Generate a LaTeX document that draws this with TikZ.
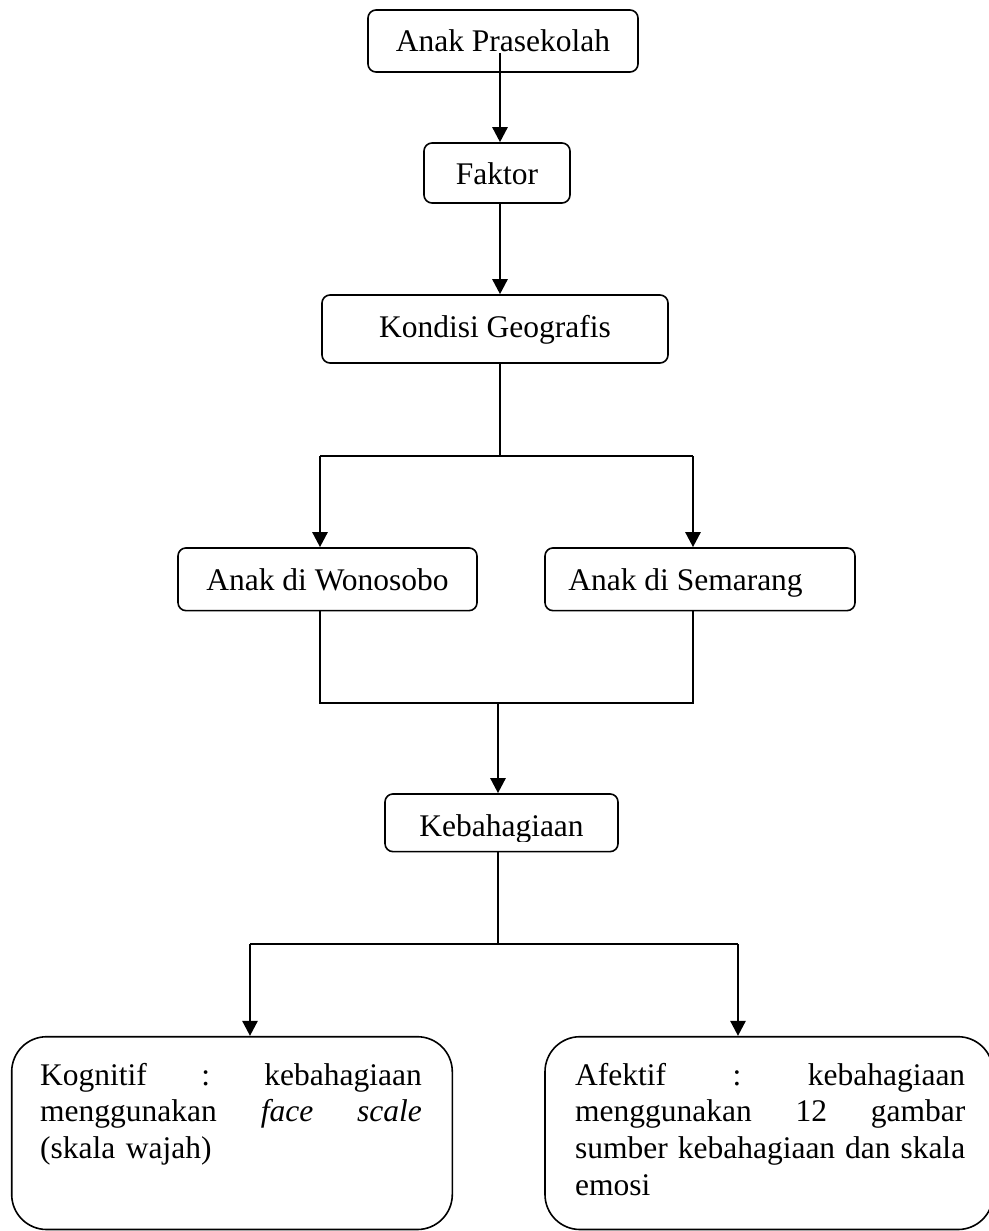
\documentclass[tikz,border=0pt]{standalone}
\usepackage{fontspec}
\setmainfont{Liberation Serif}
\usetikzlibrary{arrows.meta}
\tikzset{
  every node/.style={font=\fontsize{31.5}{36.7}\selectfont},
  box/.style={draw, line width=1.6pt, rounded corners=8pt, inner sep=0pt, text depth=0pt},
  bigbox/.style={draw, line width=1.6pt, rounded corners=35pt, inner sep=0pt},
  txt/.style={inner sep=0pt},
  arr/.style={line width=2.6pt, -{Triangle[length=15pt,width=15pt]}},
  conn/.style={line width=1.8pt}
}
\begin{document}
\begin{tikzpicture}[x=1pt,y=-1pt]
\fill[white] (0,0) rectangle (988,1231);
\useasboundingbox (0,0) rectangle (988,1231);

% boxes
\node[box, minimum width=270pt, minimum height=62pt, text height=22pt] (ap) at (503,41) {Anak Prasekolah};
\node[box, minimum width=146pt, minimum height=60pt, text height=23pt] (faktor) at (497,173) {Faktor};
\node[box, minimum width=346pt, minimum height=68pt, text height=17pt] (kondisi) at (495,329) {Kondisi Geografis};
\node[box, minimum width=299pt, minimum height=62.7pt, text height=22pt] (wono) at (327.5,579.3) {Anak di Wonosobo};
\node[box, minimum width=310pt, minimum height=62.7pt, text height=22pt] (sema) at (700,579.3) {Anak di Semarang\hspace*{29pt}};
\node[box, minimum width=233pt, minimum height=57.7pt] (keb) at (501.5,822.8) {};
\begin{scope}
  \clip (385,794) rectangle (618,841);
  \node[txt, anchor=base] (kebt) at (501.5,836.7) {Kebahagiaan};
\end{scope}

\node[bigbox, minimum width=440.6pt, minimum height=192.8pt] (kog) at (232,1133.1) {};
\node[bigbox, minimum width=448pt, minimum height=192.8pt] (afe) at (769,1133.1) {};
\node[txt, anchor=north west, text width=381.7pt, align=left] (kogt) at (40,1059.3)
  {\strut Kognitif\hfill:\hfill kebahagiaan\\
   menggunakan\hfill\textit{face}\hfill\textit{scale}\\
   (skala wajah)};
\node[txt, anchor=north west, text width=390pt, align=left] (afet) at (575,1059.3)
  {\strut Afektif\hfill:\hfill kebahagiaan\\
   menggunakan\hfill 12\hfill gambar\\
   sumber\hfill kebahagiaan\hfill dan\hfill skala\\
   emosi};

% junction coordinates
\coordinate (s1) at (500,53);
\coordinate (j1) at (500,456);
\coordinate (jl) at (320,456);
\coordinate (jr) at (693,456);
\coordinate (bl) at (320,703);
\coordinate (br) at (693,703);
\coordinate (bm) at (498,703);
\coordinate (k1) at (498,944);
\coordinate (kl) at (250,944);
\coordinate (kr) at (738,944);

% connectors
\draw[arr] (s1) -- (s1 |- faktor.north);
\draw[arr] (faktor.south -| s1) -- (s1 |- kondisi.north);
\draw[conn] (kondisi.south -| j1) -- (j1);
\draw[conn] (jl) -- (jr);
\draw[arr] (jl) -- (jl |- wono.north);
\draw[arr] (jr) -- (jr |- sema.north);
\draw[conn] (wono.south -| bl) -- (bl) -- (br) -- (sema.south -| br);
\draw[arr] (bm) -- (bm |- keb.north);
\draw[conn] (keb.south -| k1) -- (k1);
\draw[conn] (kl) -- (kr);
\draw[arr] (kl) -- (kl |- kog.north);
\draw[arr] (kr) -- (kr |- afe.north);
\end{tikzpicture}
\end{document}
